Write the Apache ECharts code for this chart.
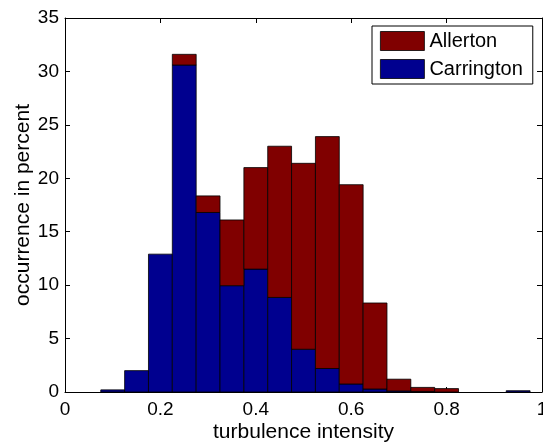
<!DOCTYPE html>
<html>
<head>
<meta charset="utf-8">
<script src="https://cdn.jsdelivr.net/npm/echarts@6/dist/echarts.min.js"></script>
<style>
  html, body { margin: 0; padding: 0; background: #fff; }
  #chart { width: 543px; height: 443px; }
</style>
</head>
<body>
<div id="chart"></div>
<script>
// Histogram bin centres (bin width 0.05)
const binWidth = 0.05;
const binCenters = [0.10, 0.15, 0.20, 0.25, 0.30, 0.35, 0.40, 0.45, 0.50, 0.55,
                    0.60, 0.65, 0.70, 0.75, 0.80, 0.85, 0.90, 0.95];
// Occurrence in percent per bin; Allerton is stacked on top of Carrington
const carrington = [0.2, 2.0, 12.9, 30.6, 16.8, 9.95, 11.5, 8.85, 4.0, 2.2,
                    0.75, 0.28, 0.1, 0.05, 0, 0, 0, 0.12];
const allerton   = [0, 0, 0, 1.0, 1.55, 6.15, 9.5, 14.15, 17.4, 21.7,
                    18.65, 8.05, 1.1, 0.38, 0.32, 0, 0, 0];
const xTicks = { min: 0, max: 1, step: 0.2 };
const yTicks = { min: 0, max: 35, step: 5 };

// [centre, bottom, top] for every non-empty bin of a stacked layer
function stackedRows(vals, base) {
  const rows = [];
  binCenters.forEach((x, i) => {
    if (vals[i] > 0) {
      const b = base ? base[i] : 0;
      rows.push([x, b, b + vals[i]]);
    }
  });
  return rows;
}

function renderBin(params, api) {
  const x = api.value(0);
  const p0 = api.coord([x - binWidth / 2, api.value(2)]);
  const p1 = api.coord([x + binWidth / 2, api.value(1)]);
  return {
    type: 'rect',
    shape: { x: p0[0], y: p0[1], width: p1[0] - p0[0], height: p1[1] - p0[1] },
    style: api.style()
  };
}

const FONT = '"Liberation Sans", Arial, sans-serif';
const black = '#000';
const RED = '#800000';
const BLUE = '#00008F';

const chart = echarts.init(document.getElementById('chart'), null, { renderer: 'canvas' });

const frameAxis = {
  axisLine: { show: true, onZero: false, lineStyle: { color: black, width: 1 } },
  axisTick: { show: true, inside: true, length: 5, lineStyle: { color: black, width: 1 } },
  splitLine: { show: false }
};

chart.setOption({
  animation: false,
  backgroundColor: '#fff',
  textStyle: { fontFamily: FONT, color: black },
  grid: { left: 65, right: 1, top: 18, bottom: 51, containLabel: false, outerBoundsMode: 'none' },
  legend: {
    data: ['Allerton', 'Carrington'],
    orient: 'vertical',
    left: 372,
    top: 26,
    padding: [5, 10, 5, 8],
    itemWidth: 44,
    itemHeight: 19,
    itemGap: 8,
    backgroundColor: '#fff',
    borderColor: black,
    borderWidth: 1,
    borderRadius: 0,
    icon: 'rect',
    selectedMode: false,
    itemStyle: { borderColor: '#000', borderWidth: 0.8 },
    textStyle: { fontFamily: FONT, fontSize: 20, color: black }
  },
  xAxis: [
    Object.assign({
      type: 'value',
      min: xTicks.min, max: xTicks.max, interval: xTicks.step,
      position: 'bottom',
      name: 'turbulence intensity',
      nameLocation: 'middle',
      nameGap: 30,
      nameMoveOverlap: false,
      nameTextStyle: { fontFamily: FONT, fontSize: 21, color: black },
      axisLabel: { margin: 8, fontFamily: FONT, fontSize: 19, color: black }
    }, frameAxis),
    Object.assign({
      type: 'value',
      min: xTicks.min, max: xTicks.max, interval: xTicks.step,
      position: 'top',
      axisLabel: { show: false }
    }, frameAxis)
  ],
  yAxis: [
    Object.assign({
      type: 'value',
      min: yTicks.min, max: yTicks.max, interval: yTicks.step,
      position: 'left',
      name: 'occurrence in percent',
      nameLocation: 'middle',
      nameGap: 31,
      nameMoveOverlap: false,
      nameTextStyle: { fontFamily: FONT, fontSize: 21, color: black },
      axisLabel: { margin: 6, fontFamily: FONT, fontSize: 19, color: black }
    }, frameAxis),
    Object.assign({
      type: 'value',
      min: yTicks.min, max: yTicks.max, interval: yTicks.step,
      position: 'right',
      axisLabel: { show: false }
    }, frameAxis)
  ],
  series: [
    {
      name: 'Carrington',
      type: 'custom',
      xAxisIndex: 0, yAxisIndex: 0,
      renderItem: renderBin,
      encode: { x: 0, y: [1, 2] },
      data: stackedRows(carrington, null),
      itemStyle: { color: BLUE, borderColor: '#000', borderWidth: 0.8 }
    },
    {
      name: 'Allerton',
      type: 'custom',
      xAxisIndex: 0, yAxisIndex: 0,
      renderItem: renderBin,
      encode: { x: 0, y: [1, 2] },
      data: stackedRows(allerton, carrington),
      itemStyle: { color: RED, borderColor: '#000', borderWidth: 0.8 }
    }
  ]
});
</script>
</body>
</html>
